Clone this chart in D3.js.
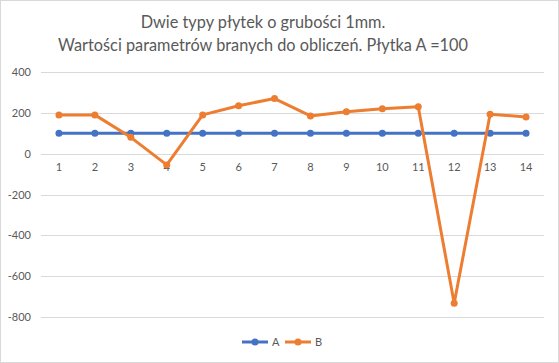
<!DOCTYPE html>
<html>
<head>
<meta charset="utf-8">
<style>
html, body { margin:0; padding:0; background:#fff; }
svg { display:block; font-family: Lato, "Open Sans", sans-serif; }
</style>
</head>
<body>
<div id="chart"></div>
<script src="https://d3js.org/d3.v7.min.js"></script>
<script>
const categories = ["1","2","3","4","5","6","7","8","9","10","11","12","13","14"];
const seriesA = [100,100,100,100,100,100,100,100,100,100,100,100,100,100];
const seriesB = [190,190,80,-55,190,235,270,185,205,220,230,-733,193,180];
const yTicks = [-800,-600,-400,-200,0,200,400];
const titleLines = ["Dwie typy płytek o grubości 1mm.", "Wartości parametrów branych do obliczeń. Płytka A =100"];

const W = 559, H = 363;
const margin = {top: 72, right: 15, bottom: 46, left: 41};

const svg = d3.select("#chart").append("svg")
  .attr("width", W).attr("height", H);

svg.append("rect")
  .attr("x", 0.5).attr("y", 0.5)
  .attr("width", W - 1).attr("height", H - 1)
  .attr("fill", "#fff").attr("stroke", "#d9d9d9");

const x = d3.scaleBand()
  .domain(categories)
  .range([margin.left, W - margin.right]);

const y = d3.scaleLinear()
  .domain([-800, 400])
  .range([H - margin.bottom, margin.top]);

// gridlines
svg.append("g")
  .selectAll("line")
  .data(yTicks)
  .join("line")
  .attr("x1", margin.left).attr("x2", W - margin.right)
  .attr("y1", d => Math.round(y(d)) + 0.5).attr("y2", d => Math.round(y(d)) + 0.5)
  .attr("stroke", "#d9d9d9").attr("stroke-width", 1);

// y labels (plain hyphen like the original)
const yAxis = svg.append("g")
  .attr("transform", `translate(${margin.left},0)`)
  .call(d3.axisLeft(y).tickValues(yTicks).tickFormat(d => String(d)).tickSize(0).tickPadding(10));
yAxis.select(".domain").remove();
yAxis.selectAll("text")
  .attr("fill", "#595959")
  .style("font-size", "11px")
  .style("font-family", "Lato, sans-serif");

// x labels at zero line
const xAxis = svg.append("g")
  .attr("transform", `translate(0,${y(0)})`)
  .call(d3.axisBottom(x).tickSize(0).tickPadding(10));
xAxis.select(".domain").remove();
xAxis.selectAll("text")
  .attr("fill", "#595959")
  .style("font-size", "11px")
  .style("font-family", "Lato, sans-serif");

const line = d3.line()
  .x((d, i) => x(categories[i]) + x.bandwidth() / 2)
  .y(d => y(d));

const series = [
  {name: "A", values: seriesA, color: "#4472C4"},
  {name: "B", values: seriesB, color: "#ED7D31"}
];

series.forEach(s => {
  svg.append("path")
    .datum(s.values)
    .attr("fill", "none")
    .attr("stroke", s.color)
    .attr("stroke-width", 3)
    .attr("stroke-linejoin", "round")
    .attr("d", line);
  svg.append("g")
    .selectAll("circle")
    .data(s.values)
    .join("circle")
    .attr("cx", (d, i) => x(categories[i]) + x.bandwidth() / 2)
    .attr("cy", d => y(d))
    .attr("r", 3.5)
    .attr("fill", s.color);
});

// title
svg.append("g")
  .selectAll("text")
  .data(titleLines)
  .join("text")
  .attr("x", 263)
  .attr("y", (d, i) => 28 + i * 23)
  .attr("text-anchor", "middle")
  .attr("fill", "#595959")
  .style("font-size", "16.3px")
  .text(d => d);

// legend
const legend = svg.append("g").attr("transform", "translate(242,342)");
series.forEach((s, i) => {
  const g = legend.append("g").attr("transform", `translate(${i * 43},0)`);
  g.append("line").attr("x1", 0).attr("x2", 26).attr("y1", 0).attr("y2", 0)
    .attr("stroke", s.color).attr("stroke-width", 3);
  g.append("circle").attr("cx", 13).attr("cy", 0).attr("r", 3.5).attr("fill", s.color);
  g.append("text").attr("x", 30).attr("y", 4)
    .attr("fill", "#595959").style("font-size", "11px").text(s.name);
});
</script>
</body>
</html>
